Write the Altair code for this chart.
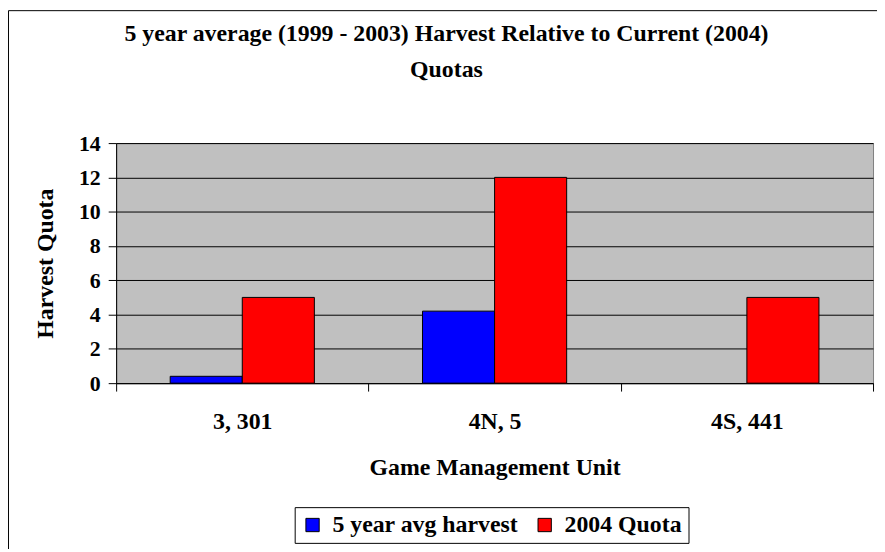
import altair as alt
import pandas as pd

categories = ["3, 301", "4N, 5", "4S, 441"]
series_names = ["5 year avg harvest", "2004 Quota"]
avg_harvest = [0.4, 4.2, 0.0]
quota_2004 = [5, 12, 5]
y_ticks = [0, 2, 4, 6, 8, 10, 12, 14]
series_colors = ["#0000FF", "#FF0000"]
title_lines = ["5 year average (1999 - 2003) Harvest Relative to Current (2004)", "Quotas"]

rows = []
for c, a, q in zip(categories, avg_harvest, quota_2004):
    rows.append({"unit": c, "series": series_names[0], "value": a})
    rows.append({"unit": c, "series": series_names[1], "value": q})
df = pd.DataFrame(rows)

FONT = "Liberation Serif"

bars = alt.Chart(df).transform_filter("datum.value > 0").mark_bar(stroke="black", strokeWidth=1).encode(
    x=alt.X(
        "unit:N",
        sort=categories,
        scale=alt.Scale(domain=categories, paddingInner=0, paddingOuter=0),
        axis=alt.Axis(
            title="Game Management Unit",
            labelAngle=0,
            tickBand="extent",
            ticks=True,
            tickSize=8,
            tickColor="black",
            domainColor="black",
            labelFont=FONT,
            labelFontSize=24,
            labelFontWeight="bold",
            labelColor="black",
            labelBaseline="alphabetic",
            labelPadding=38,
            titleFont=FONT,
            titleFontSize=24,
            titleFontWeight="bold",
            titleColor="black",
            titleBaseline="alphabetic",
            titleX=381.5,
            titleY=92,
        ),
    ),
    xOffset=alt.XOffset(
        "series:N",
        sort=series_names,
        scale=alt.Scale(domain=series_names, paddingInner=0, paddingOuter=0.75),
    ),
    y=alt.Y(
        "value:Q",
        scale=alt.Scale(domain=[0, 14], nice=False),
        axis=alt.Axis(
            title="Harvest Quota",
            values=y_ticks,
            grid=True,
            gridColor="black",
            gridOpacity=1,
            gridWidth=1,
            domainColor="black",
            tickColor="black",
            tickSize=8,
            labelFont=FONT,
            labelFontSize=22,
            labelFontWeight="bold",
            labelColor="black",
            labelPadding=8,
            titleFont=FONT,
            titleFontSize=24,
            titleFontWeight="bold",
            titleColor="black",
            titleAngle=-90,
            titleBaseline="alphabetic",
            titleAlign="center",
            titleX=-64,
            titleY=121,
        ),
    ),
    color=alt.Color(
        "series:N",
        sort=series_names,
        scale=alt.Scale(domain=series_names, range=series_colors),
        legend=alt.Legend(
            title=None,
            orient="none",
            legendX=180,
            legendY=367,
            direction="horizontal",
            symbolType="square",
            symbolSize=180,
            symbolStrokeColor="black",
            symbolStrokeWidth=1,
            symbolOpacity=1,
            labelFont=FONT,
            labelFontSize=24,
            labelFontWeight="bold",
            labelColor="black",
            labelLimit=0,
            labelOffset=8,
            columnPadding=14,
            strokeColor="black",
            padding=6,
            fillColor="white",
        ),
    ),
)

one = pd.DataFrame({"k": [0]})

title = alt.Chart(one).mark_text(
    text=title_lines,
    font=FONT,
    fontSize=24,
    fontWeight="bold",
    color="black",
    align="center",
    baseline="alphabetic",
    lineHeight=36,
).encode(x=alt.value(333), y=alt.value(-103))

frame = alt.Chart(one).mark_rule(color="black", strokeWidth=1).encode(
    x=alt.value(-108.5), x2=alt.value(-108.5), y=alt.value(-133.5), y2=alt.value(420)
)
frame_top = alt.Chart(one).mark_rule(color="black", strokeWidth=1).encode(
    x=alt.value(-108.5), x2=alt.value(770), y=alt.value(-133.5), y2=alt.value(-133.5)
)

chart = alt.layer(bars, title, frame, frame_top).properties(
    width=763,
    height=242,
    autosize=alt.AutoSizeParams(type="none"),
    padding={"left": 109, "top": 134, "right": 4, "bottom": 165},
).configure_view(fill="#C0C0C0", stroke="#808080", strokeWidth=1)

chart.save("out.html", embed_options={"renderer": "svg", "actions": False})
